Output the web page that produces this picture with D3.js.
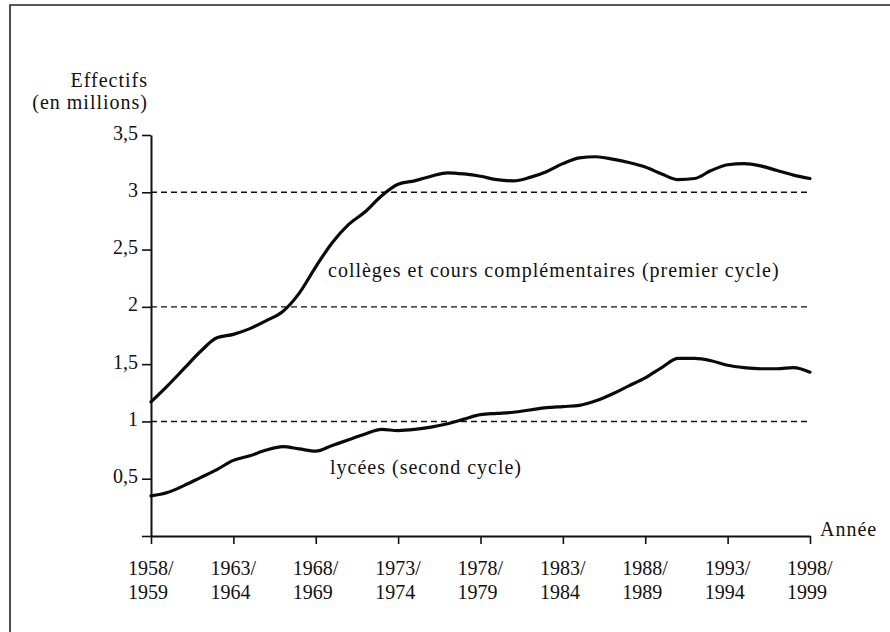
<!DOCTYPE html>
<html>
<head>
<meta charset="utf-8">
<script src="https://cdn.jsdelivr.net/npm/d3@7"></script>
</head>
<body style="margin:0; background:#fff">
<svg id="chart" width="890" height="632"></svg>
<script>
// school years, labelled by the first year (1958 = 1958/1959)
var years = d3.range(1958, 1999);

// premier cycle : collèges et cours complémentaires (millions)
var premierCycle = [
  1.17, 1.31, 1.46, 1.61, 1.73, 1.76, 1.81, 1.88, 1.96, 2.12,
  2.35, 2.56, 2.72, 2.83, 2.97, 3.07, 3.10, 3.14, 3.17, 3.16,
  3.14, 3.11, 3.10, 3.13, 3.18, 3.25, 3.30, 3.31, 3.29, 3.26,
  3.22, 3.16, 3.11, 3.12, 3.19, 3.24, 3.25, 3.23, 3.19, 3.15,
  3.12
];

// second cycle : lycées (millions)
var secondCycle = [
  0.35, 0.38, 0.44, 0.51, 0.58, 0.66, 0.70, 0.75, 0.78, 0.76,
  0.74, 0.79, 0.84, 0.89, 0.93, 0.92, 0.93, 0.95, 0.98, 1.02,
  1.06, 1.07, 1.08, 1.10, 1.12, 1.13, 1.14, 1.18, 1.24, 1.31,
  1.38, 1.47, 1.55, 1.55, 1.53, 1.49, 1.47, 1.46, 1.46, 1.47,
  1.43
];

var xTicks = [1958, 1963, 1968, 1973, 1978, 1983, 1988, 1993, 1998];
var yTicks = [0, 0.5, 1, 1.5, 2, 2.5, 3, 3.5];
var gridValues = [1, 2, 3];

var serif = "'Liberation Serif'";

var svg = d3.select("#chart");

var x = d3.scaleLinear().domain([1958, 1998]).range([151, 810]);
var y = d3.scaleLinear().domain([0, 3.5]).range([536, 135]);

// frame of the scanned figure (only top and left edges visible)
svg.append("path")
  .attr("d", "M10,632 L10,5 L890,5")
  .attr("fill", "none")
  .attr("stroke", "#222")
  .attr("stroke-width", 1.6);

// dashed reference lines
svg.selectAll(".grid")
  .data(gridValues)
  .enter().append("line")
  .attr("class", "grid")
  .attr("x1", x(1958))
  .attr("x2", x(1998))
  .attr("y1", d => y(d))
  .attr("y2", d => y(d))
  .attr("stroke", "#111")
  .attr("stroke-width", 1.4)
  .attr("stroke-dasharray", "6,4");

// y axis
var yAxis = svg.append("g")
  .attr("transform", "translate(" + x(1958) + ",0)")
  .call(d3.axisLeft(y)
    .tickValues(yTicks)
    .tickSize(9)
    .tickSizeOuter(0)
    .tickFormat(d => d === 0 ? "" : String(d).replace(".", ",")));

yAxis.attr("font-family", null).attr("font-size", null);
yAxis.select(".domain").attr("stroke", "#111").attr("stroke-width", 2);
yAxis.selectAll(".tick line").attr("stroke", "#111").attr("stroke-width", 1.6);
yAxis.selectAll(".tick text")
  .attr("x", -13)
  .attr("dy", "0.2em")
  .style("font-family", serif)
  .style("font-size", "20px")
  .attr("fill", "#111");

// x axis
var xAxis = svg.append("g")
  .attr("transform", "translate(0," + y(0) + ")")
  .call(d3.axisBottom(x)
    .tickValues(xTicks)
    .tickSize(8)
    .tickSizeOuter(0)
    .tickFormat(""));

xAxis.select(".domain").attr("stroke", "#111").attr("stroke-width", 2);
xAxis.selectAll(".tick line").attr("stroke", "#111").attr("stroke-width", 1.6);

// two-line year labels under each tick
var labels = svg.selectAll(".xlab")
  .data(xTicks)
  .enter().append("text")
  .attr("class", "xlab")
  .attr("x", d => x(d) - 23)
  .attr("y", 575)
  .attr("fill", "#111")
  .style("font-family", serif)
  .style("font-size", "20px");

labels.append("tspan").text(d => d + "/");
labels.append("tspan")
  .attr("x", d => x(d) - 23)
  .attr("dy", 24)
  .text(d => d + 1);

// the two series
var line = d3.line()
  .x((d, i) => x(years[i]))
  .y(d => y(d))
  .curve(d3.curveMonotoneX);

[premierCycle, secondCycle].forEach(function (series) {
  svg.append("path")
    .datum(series)
    .attr("d", line)
    .attr("fill", "none")
    .attr("stroke", "#0a0a0a")
    .attr("stroke-width", 3.2)
    .attr("stroke-linejoin", "round")
    .attr("stroke-linecap", "round");
});

// axis titles and series labels
function label(txt, px, py, anchor) {
  svg.append("text")
    .attr("x", px)
    .attr("y", py)
    .attr("text-anchor", anchor || "start")
    .attr("fill", "#111")
    .style("font-family", serif)
    .style("font-size", "20px")
    .style("letter-spacing", "1px")
    .text(txt);
}

label("Effectifs", 148, 87, "end");
label("(en millions)", 148, 109, "end");
label("Année", 820, 536);
label("collèges et cours complémentaires (premier cycle)", 328, 277);
label("lycées (second cycle)", 330, 474);
</script>
</body>
</html>
